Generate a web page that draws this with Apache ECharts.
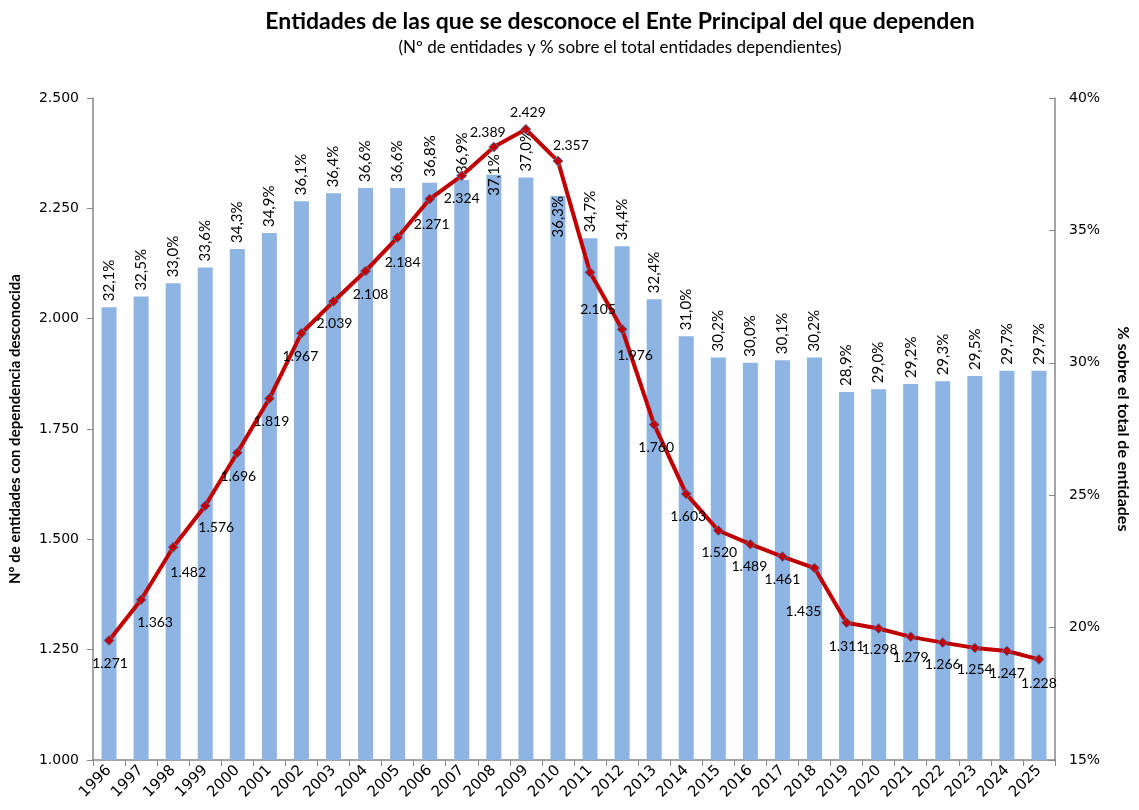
<!DOCTYPE html>
<html>
<head>
<meta charset="utf-8">
<script src="https://cdn.jsdelivr.net/npm/echarts@6/dist/echarts.min.js"></script>
<style>
  html, body { margin: 0; padding: 0; background: #fff; }
  #chart { width: 1139px; height: 810px; }
</style>
</head>
<body>
<div id="chart"></div>
<script>
const years = ['1996', '1997', '1998', '1999', '2000', '2001', '2002', '2003', '2004', '2005',
  '2006', '2007', '2008', '2009', '2010', '2011', '2012', '2013', '2014', '2015',
  '2016', '2017', '2018', '2019', '2020', '2021', '2022', '2023', '2024', '2025']

// % sobre el total de entidades dependientes (eje derecho, barras)
const pctValues = [32.1, 32.5, 33.0, 33.6, 34.3, 34.9, 36.1, 36.4, 36.6, 36.6,
  36.8, 36.9, 37.1, 37.0, 36.3, 34.7, 34.4, 32.4, 31.0, 30.2,
  30.0, 30.1, 30.2, 28.9, 29.0, 29.2, 29.3, 29.5, 29.7, 29.7]

// Nº de entidades con dependencia desconocida (eje izquierdo, línea)
const countValues = [1271, 1363, 1482, 1576, 1696, 1819, 1967, 2039, 2108, 2184,
  2271, 2324, 2389, 2429, 2357, 2105, 1976, 1760, 1603, 1520,
  1489, 1461, 1435, 1311, 1298, 1279, 1266, 1254, 1247, 1228]

const leftTicks = [1000, 1250, 1500, 1750, 2000, 2250, 2500]
const rightTicks = [15, 20, 25, 30, 35, 40]

// label offsets for the line, as Excel had them moved by hand
const lineLabelOffsets = [
  [1, 23], [14, 23], [15, 25], [11, 22], [1, 24], [2, 23], [-1, 23], [1, 22], [5, 23], [5, 25],
  [2, 25], [0, 23], [-6, -15], [2, -17], [13, -16], [8, 37], [13, 26], [2, 23], [2, 23], [1, 22],
  [-1, 22], [0, 23], [-11, 43], [0, 24], [1, 21], [0, 21], [0, 22], [0, 22], [0, 22], [0, 24],
]

const fmtThousands = (v) => String(v).replace(/\B(?=(\d{3})+(?!\d))/g, '.')
const fmtPct = (v) => v.toFixed(1).replace('.', ',') + '%'

const chart = echarts.init(document.getElementById('chart'))

const barData = pctValues.map((v, i) => {
  if (years[i] === '2008') {
    return { value: v, label: { position: 'insideTop', distance: 21, align: 'left' } }
  }
  if (years[i] === '2010') {
    return { value: v, label: { position: 'insideTop', distance: 0, align: 'right' } }
  }
  return v
})

const lineData = countValues.map((v, i) => ({
  value: v,
  label: { offset: lineLabelOffsets[i] },
}))

chart.setOption({
  animation: false,
  textStyle: { fontFamily: 'Lato' },
  title: {
    text: 'Entidades de las que se desconoce el Ente Principal del que dependen',
    subtext: '(Nº de entidades y % sobre el total entidades dependientes)',
    left: 615,
    textAlign: 'center',
    top: 5,
    itemGap: 6,
    textStyle: { fontFamily: 'Lato', fontWeight: 'bold', fontSize: 23, color: '#000' },
    subtextStyle: { fontFamily: 'Lato', fontSize: 17, color: '#000' },
  },
  grid: {
    left: 89,
    right: 80,
    top: 98,
    bottom: 50,
  },
  xAxis: {
    type: 'category',
    data: years,
    axisLine: { lineStyle: { color: '#868686', width: 1.5 } },
    axisTick: { show: true, length: 6, lineStyle: { color: '#868686' } },
    axisLabel: {
      rotate: 45,
      interval: 0,
      fontFamily: 'DejaVu Sans',
      fontSize: 15,
      color: '#000',
      margin: 8,
    },
  },
  yAxis: [
    {
      type: 'value',
      min: 1000,
      max: 2500,
      interval: 250,
      name: 'Nº de entidades con dependencia desconocida',
      nameLocation: 'middle',
      nameGap: 70,
      nameTextStyle: { fontFamily: 'Lato', fontWeight: 'bold', fontSize: 15, color: '#000' },
      axisLine: { show: true, lineStyle: { color: '#868686', width: 1.5 } },
      axisTick: { show: true, length: 6, lineStyle: { color: '#868686' } },
      splitLine: { show: false },
      axisLabel: {
        fontFamily: 'DejaVu Sans',
        fontSize: 14,
        color: '#000',
        margin: 14,
        formatter: (v) => (leftTicks.includes(v) ? fmtThousands(v) : ''),
      },
    },
    {
      type: 'value',
      min: 15,
      max: 40,
      interval: 5,
      name: '% sobre el total de entidades',
      nameLocation: 'middle',
      nameRotate: -90,
      nameGap: 60,
      nameTextStyle: { fontFamily: 'Lato', fontWeight: 'bold', fontSize: 16, color: '#000' },
      axisLine: { show: true, lineStyle: { color: '#868686', width: 1.5 } },
      axisTick: { show: true, length: 6, inside: true, lineStyle: { color: '#868686' } },
      splitLine: { show: false },
      axisLabel: {
        fontFamily: 'DejaVu Sans',
        fontSize: 14,
        color: '#000',
        margin: 14,
        formatter: (v) => (rightTicks.includes(v) ? v + '%' : ''),
      },
    },
  ],
  series: [
    {
      name: '% sobre el total',
      type: 'bar',
      yAxisIndex: 1,
      barWidth: 15,
      data: barData,
      itemStyle: { color: '#8EB4E3' },
      label: {
        show: true,
        position: 'top',
        distance: 6,
        rotate: 90,
        align: 'left',
        verticalAlign: 'middle',
        fontFamily: 'Lato',
        fontSize: 15,
        color: '#000',
        formatter: (p) => fmtPct(p.value),
      },
    },
    {
      name: 'Nº de entidades',
      type: 'line',
      yAxisIndex: 0,
      data: lineData,
      symbol: 'diamond',
      symbolSize: 10,
      lineStyle: { color: '#C00000', width: 4 },
      itemStyle: { color: '#C00000', borderColor: '#4F81BD', borderWidth: 1 },
      label: {
        show: true,
        position: 'inside',
        fontFamily: 'Lato',
        fontSize: 14,
        color: '#000',
        formatter: (p) => fmtThousands(p.value),
      },
      z: 5,
    },
  ],
})
</script>
</body>
</html>
